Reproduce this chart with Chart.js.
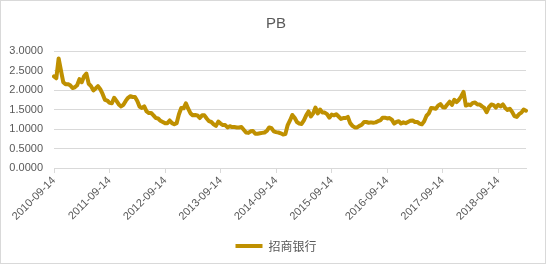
<!DOCTYPE html>
<html><head><meta charset="utf-8">
<script src="https://cdn.jsdelivr.net/npm/chart.js@4/dist/chart.umd.min.js"></script>
<style>
html,body{margin:0;padding:0;background:#fff;}
#wrap{position:absolute;left:0;top:0;width:552px;height:265px;}
#frame{position:absolute;left:0;top:0;width:544px;height:262px;border:1px solid #D9D9D9;pointer-events:none;}
</style></head>
<body>
<div id="wrap"><canvas id="c" width="552" height="265"></canvas></div>
<div id="frame"></div>
<script>
const dates = [
"2010-09-14","2010-09-28","2010-10-14","2010-10-28","2010-11-14","2010-11-28","2010-12-14","2010-12-28",
"2011-01-14","2011-01-28","2011-02-14","2011-02-28","2011-03-14","2011-03-28","2011-04-14","2011-04-28","2011-05-14","2011-05-28","2011-06-14","2011-06-28","2011-07-14","2011-07-28","2011-08-14","2011-08-28","2011-09-14","2011-09-28","2011-10-14","2011-10-28","2011-11-14","2011-11-28","2011-12-14","2011-12-28",
"2012-01-14","2012-01-28","2012-02-14","2012-02-28","2012-03-14","2012-03-28","2012-04-14","2012-04-28","2012-05-14","2012-05-28","2012-06-14","2012-06-28","2012-07-14","2012-07-28","2012-08-14","2012-08-28","2012-09-14","2012-09-28","2012-10-14","2012-10-28","2012-11-14","2012-11-28","2012-12-14","2012-12-28",
"2013-01-14","2013-01-28","2013-02-14","2013-02-28","2013-03-14","2013-03-28","2013-04-14","2013-04-28","2013-05-14","2013-05-28","2013-06-14","2013-06-28","2013-07-14","2013-07-28","2013-08-14","2013-08-28","2013-09-14","2013-09-28","2013-10-14","2013-10-28","2013-11-14","2013-11-28","2013-12-14","2013-12-28",
"2014-01-14","2014-01-28","2014-02-14","2014-02-28","2014-03-14","2014-03-28","2014-04-14","2014-04-28","2014-05-14","2014-05-28","2014-06-14","2014-06-28","2014-07-14","2014-07-28","2014-08-14","2014-08-28","2014-09-14","2014-09-28","2014-10-14","2014-10-28","2014-11-14","2014-11-28","2014-12-14","2014-12-28",
"2015-01-14","2015-01-28","2015-02-14","2015-02-28","2015-03-14","2015-03-28","2015-04-14","2015-04-28","2015-05-14","2015-05-28","2015-06-14","2015-06-28","2015-07-14","2015-07-28","2015-08-14","2015-08-28","2015-09-14","2015-09-28","2015-10-14","2015-10-28","2015-11-14","2015-11-28","2015-12-14","2015-12-28",
"2016-01-14","2016-01-28","2016-02-14","2016-02-28","2016-03-14","2016-03-28","2016-04-14","2016-04-28","2016-05-14","2016-05-28","2016-06-14","2016-06-28","2016-07-14","2016-07-28","2016-08-14","2016-08-28","2016-09-14","2016-09-28","2016-10-14","2016-10-28","2016-11-14","2016-11-28","2016-12-14","2016-12-28",
"2017-01-14","2017-01-28","2017-02-14","2017-02-28","2017-03-14","2017-03-28","2017-04-14","2017-04-28","2017-05-14","2017-05-28","2017-06-14","2017-06-28","2017-07-14","2017-07-28","2017-08-14","2017-08-28","2017-09-14","2017-09-28","2017-10-14","2017-10-28","2017-11-14","2017-11-28","2017-12-14","2017-12-28",
"2018-01-14","2018-01-28","2018-02-14","2018-02-28","2018-03-14","2018-03-28","2018-04-14","2018-04-28","2018-05-14","2018-05-28","2018-06-14","2018-06-28","2018-07-14","2018-07-28","2018-08-14","2018-08-28","2018-09-14","2018-09-28","2018-10-14","2018-10-28","2018-11-14","2018-11-28","2018-12-14","2018-12-28",
"2019-01-14","2019-01-28","2019-02-14","2019-02-28","2019-03-14"
];
const pbCMB = [
2.35,2.30,2.81,2.50,2.20,2.15,2.15,2.12,2.05,2.07,
2.12,2.28,2.20,2.35,2.42,2.16,2.10,1.99,2.04,2.10,
2.02,1.90,1.75,1.73,1.67,1.66,1.80,1.72,1.63,1.58,
1.62,1.72,1.80,1.84,1.82,1.82,1.72,1.57,1.54,1.58,
1.45,1.41,1.41,1.35,1.28,1.27,1.21,1.18,1.15,1.15,
1.22,1.15,1.12,1.15,1.38,1.54,1.53,1.66,1.52,1.40,
1.35,1.36,1.35,1.28,1.35,1.35,1.27,1.20,1.18,1.12,
1.08,1.19,1.14,1.10,1.10,1.04,1.07,1.05,1.05,1.04,
1.04,1.05,0.98,0.91,0.90,0.94,0.95,0.88,0.88,0.89,
0.90,0.91,0.95,1.04,1.02,0.94,0.92,0.91,0.89,0.86,
0.87,1.10,1.22,1.36,1.29,1.18,1.14,1.13,1.22,1.35,
1.45,1.32,1.40,1.55,1.40,1.50,1.42,1.42,1.38,1.29,
1.37,1.35,1.38,1.32,1.26,1.28,1.28,1.31,1.15,1.08,
1.04,1.04,1.08,1.11,1.18,1.18,1.16,1.17,1.16,1.17,
1.20,1.22,1.29,1.29,1.27,1.28,1.24,1.14,1.18,1.20,
1.14,1.17,1.15,1.18,1.21,1.22,1.18,1.18,1.14,1.12,
1.20,1.34,1.40,1.54,1.53,1.52,1.60,1.64,1.56,1.55,
1.63,1.70,1.62,1.75,1.69,1.75,1.84,1.95,1.60,1.63,
1.61,1.67,1.68,1.63,1.63,1.58,1.54,1.43,1.56,1.63,
1.61,1.55,1.62,1.58,1.63,1.54,1.49,1.52,1.44,1.33,
1.31,1.38,1.42,1.50,1.47
];
const xTickLabels = ["2010-09-14","2011-09-14","2012-09-14","2013-09-14","2014-09-14","2015-09-14","2016-09-14","2017-09-14","2018-09-14"];
const seriesName = "招商银行";
const chartTitle = "PB";

const lineColor = "#BF9000";
const textColor = "#595959";
const gridColor = "#D9D9D9";
const baseFont = "'Liberation Sans', Arial, sans-serif";

new Chart(document.getElementById('c'), {
  type: 'line',
  data: {
    labels: dates,
    datasets: [{
      label: seriesName,
      data: pbCMB,
      borderColor: lineColor,
      backgroundColor: lineColor,
      borderWidth: 4,
      pointRadius: 0,
      pointStyle: 'line',
      tension: 0,
      borderJoinStyle: 'round',
      borderCapStyle: 'round'
    }]
  },
  options: {
    responsive: false,
    animation: false,
    devicePixelRatio: 1,
    layout: { padding: { left: 0, right: 0, top: 0, bottom: 3 } },
    plugins: {
      title: {
        display: true, text: chartTitle, color: textColor,
        font: { family: baseFont, size: 15, weight: 'normal' },
        padding: { top: 15, bottom: 18 }
      },
      legend: {
        position: 'bottom',
        labels: {
          color: textColor,
          font: { family: "'Noto Sans CJK SC', sans-serif", size: 12 },
          usePointStyle: true, pointStyleWidth: 27, boxHeight: 12, padding: 6
        }
      },
      tooltip: { enabled: false }
    },
    scales: {
      x: {
        type: 'category',
        offset: false,
        grid: { display: true, drawOnChartArea: false, drawTicks: true, tickLength: 5, color: gridColor },
        border: { display: true, color: gridColor },
        ticks: {
          autoSkip: false, maxRotation: 45, minRotation: 45, padding: 1,
          color: textColor, font: { family: baseFont, size: 11 },
          callback: function(v, i) { const l = dates[i]; return xTickLabels.includes(l) ? l : null; }
        },
        afterFit: function(s) { s.height = 66; }
      },
      y: {
        min: 0, max: 3,
        grid: { color: gridColor, drawTicks: false },
        border: { display: false },
        ticks: {
          stepSize: 0.5, padding: 11, color: textColor,
          font: { family: baseFont, size: 11 },
          callback: function(v) { return Number(v).toFixed(4); }
        },
        afterFit: function(s) { s.width = 54; }
      },
      yRightSpace: {
        position: 'right', display: true, min: 0, max: 3,
        grid: { display: false, drawTicks: false },
        border: { display: false },
        ticks: { display: false },
        afterFit: function(s) { s.width = 26; }
      }
    }
  }
});
</script>
</body></html>
